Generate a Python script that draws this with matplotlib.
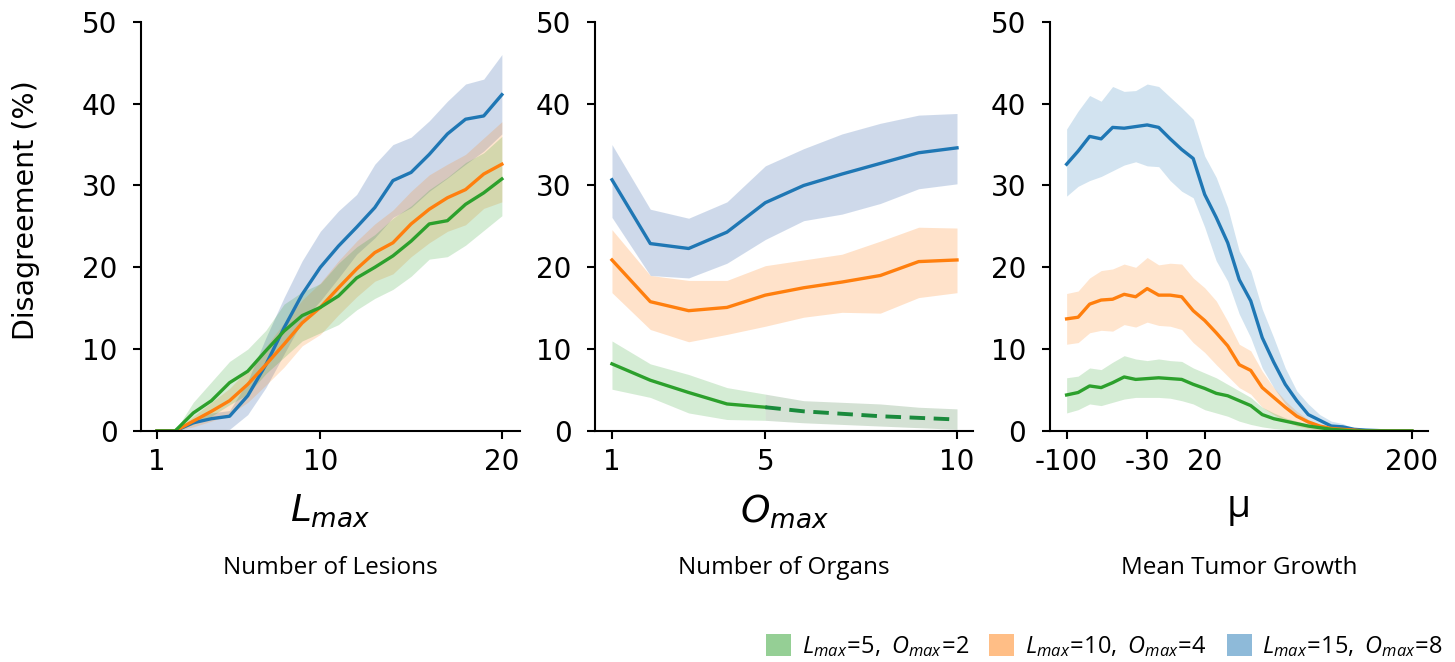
import matplotlib.pyplot as plt
import numpy as np
from matplotlib.patches import Patch

plt.rcParams.update({'font.size': 20, 'font.family': 'DejaVu Sans', 'axes.unicode_minus': False})
plt.rcParams['mathtext.fontset'] = 'custom'
plt.rcParams['mathtext.it'] = 'Open Sans:italic'
plt.rcParams['mathtext.rm'] = 'Open Sans'

# ---- panel 1: number of lesions ----
l_vals = list(range(1, 21))
l_green = [0, 0, 2.2, 3.7, 5.9, 7.3, 9.8, 12.2, 14.1, 15.1, 16.5, 18.7, 20.0, 21.4, 23.2, 25.3, 25.7, 27.7, 29.1, 30.8]
l_green_lo = [0, 0, 0.8, 1.8, 3.2, 4.5, 7.0, 9.0, 11.0, 12.0, 13.0, 14.8, 16.2, 17.3, 18.9, 21.0, 21.3, 22.7, 24.5, 26.3]
l_green_hi = [0, 0, 3.5, 6.0, 8.5, 10.0, 12.3, 15.5, 17.0, 18.0, 20.5, 22.5, 24.0, 26.0, 27.5, 29.5, 31.0, 32.8, 34.0, 36.0]
l_orange = [0, 0, 1.2, 2.4, 3.7, 5.7, 8.1, 10.6, 13.2, 15.1, 17.5, 19.8, 21.8, 23.0, 25.3, 27.1, 28.5, 29.5, 31.4, 32.6]
l_orange_lo = [0, 0, 0.5, 1.2, 2.0, 3.5, 5.6, 7.8, 10.4, 11.8, 14.2, 16.4, 18.3, 19.2, 21.3, 23.0, 24.4, 25.2, 27.2, 28.0]
l_orange_hi = [0, 0, 1.8, 3.5, 5.2, 7.5, 10.3, 13.2, 16.0, 18.1, 20.8, 23.2, 25.3, 27.0, 29.3, 31.3, 32.6, 33.8, 35.8, 37.8]
l_blue = [0, 0, 1.0, 1.5, 1.8, 4.3, 8.1, 12.6, 16.7, 20.0, 22.6, 24.9, 27.3, 30.6, 31.6, 33.8, 36.3, 38.1, 38.5, 41.1]
l_blue_lo = [0, 0, 0, 0.1, 0.2, 2.0, 5.3, 9.4, 13.4, 15.9, 18.7, 21.6, 23.6, 26.1, 27.3, 29.3, 30.9, 32.6, 34.2, 36.3]
l_blue_hi = [0, 0, 1.5, 2.2, 2.5, 6.1, 11.4, 16.3, 20.8, 24.4, 26.9, 28.9, 32.6, 35.0, 35.9, 37.9, 40.3, 42.4, 43.0, 46.0]

# ---- panel 2: number of organs ----
o_vals = list(range(1, 11))
o_green = [8.2, 6.2, 4.7, 3.3, 2.9, 2.4, 2.1, 1.8, 1.6, 1.4]
o_green_lo = [5.1, 4.1, 2.2, 1.4, 1.3, 1.0, 0.8, 0.6, 0.4, 0.2]
o_green_hi = [11.0, 8.2, 6.9, 5.3, 4.5, 3.7, 3.5, 3.3, 2.9, 2.7]
o_orange = [20.9, 15.8, 14.7, 15.1, 16.6, 17.5, 18.2, 19.0, 20.7, 20.9]
o_orange_lo = [16.9, 12.4, 10.9, 11.8, 12.8, 13.9, 14.5, 14.4, 16.3, 16.9]
o_orange_hi = [24.6, 19.0, 18.4, 18.4, 20.2, 20.9, 21.6, 23.2, 24.9, 24.8]
o_blue = [30.7, 22.9, 22.3, 24.3, 27.9, 30.0, 31.4, 32.7, 34.0, 34.6]
o_blue_lo = [26.1, 19.0, 18.7, 20.5, 23.4, 25.7, 26.5, 27.8, 29.6, 30.2]
o_blue_hi = [35.0, 27.1, 26.0, 28.0, 32.4, 34.5, 36.3, 37.6, 38.6, 38.8]
o_solid_end = 5  # green is dashed beyond this value

# ---- panel 3: mean tumor growth ----
mu_vals = list(range(-100, 201, 10))
mu_green = [4.4, 4.7, 5.5, 5.3, 5.9, 6.6, 6.3, 6.4, 6.5, 6.4, 6.3, 5.7, 5.2, 4.6, 4.3, 3.7,
            3.1, 2.0, 1.5, 1.2, 0.9, 0.6, 0.4, 0.2, 0.1, 0, 0, 0, 0, 0, 0]
mu_green_lo = [2.2, 2.6, 3.3, 3.1, 3.5, 3.9, 4.1, 4.1, 4.1, 4.0, 3.7, 3.3, 2.6, 2.2, 1.8, 1.2,
               0.8, 0.5, 0.3, 0.2, 0.1, 0, 0, 0, 0, 0, 0, 0, 0, 0, 0]
mu_green_hi = [6.5, 6.7, 7.7, 7.5, 8.4, 9.2, 8.8, 8.6, 8.8, 8.6, 8.5, 7.7, 7.1, 6.5, 5.7, 4.9,
               4.1, 2.9, 2.2, 1.6, 1.2, 0.8, 0.5, 0.3, 0.2, 0.1, 0, 0, 0, 0, 0]
mu_orange = [13.7, 13.9, 15.5, 16.0, 16.1, 16.7, 16.4, 17.4, 16.6, 16.6, 16.4, 14.7, 13.5, 12.0, 10.4, 8.1,
             7.4, 5.3, 4.1, 2.9, 1.8, 1.1, 0.6, 0.3, 0.2, 0.1, 0, 0, 0, 0, 0]
mu_orange_lo = [10.6, 10.8, 12.0, 12.3, 12.2, 13.0, 12.7, 13.3, 12.9, 12.8, 12.4, 10.8, 9.6, 8.1, 6.7, 5.3,
                4.5, 2.9, 2.0, 1.2, 0.6, 0.3, 0.1, 0, 0, 0, 0, 0, 0, 0, 0]
mu_orange_hi = [16.8, 17.1, 18.7, 19.6, 19.8, 20.4, 20.0, 21.2, 20.3, 20.5, 20.4, 18.7, 17.5, 15.9, 13.4, 10.6,
                9.8, 7.3, 5.3, 3.7, 2.4, 1.4, 0.8, 0.4, 0.2, 0.1, 0, 0, 0, 0, 0]
mu_blue = [32.6, 34.2, 36.0, 35.7, 37.1, 37.0, 37.2, 37.4, 37.1, 35.7, 34.4, 33.3, 28.9, 26.1, 23.0, 18.5,
           15.9, 11.4, 8.4, 5.7, 3.7, 2.0, 1.3, 0.6, 0.5, 0.2, 0.1, 0.05, 0, 0, 0]
mu_blue_lo = [28.7, 29.9, 30.6, 31.1, 31.8, 32.5, 32.9, 32.4, 32.3, 30.6, 29.3, 28.5, 24.9, 20.8, 18.3, 14.3,
              11.4, 7.7, 5.3, 3.3, 1.8, 0.8, 0.4, 0.1, 0, 0, 0, 0, 0, 0, 0]
mu_blue_hi = [36.9, 39.1, 41.0, 40.3, 42.1, 41.5, 41.6, 42.4, 42.1, 40.8, 39.5, 38.1, 33.6, 31.0, 27.3, 22.0,
              19.6, 14.9, 11.4, 7.7, 4.9, 3.3, 2.0, 1.2, 0.9, 0.3, 0.2, 0.1, 0, 0, 0]

legend_labels = [r'$L_{max}\!=\!5,\ O_{max}\!=\!2$', r'$L_{max}\!=\!10,\ O_{max}\!=\!4$',
                 r'$L_{max}\!=\!15,\ O_{max}\!=\!8$']
green, orange, blue = '#2ca02c', '#ff7f0e', '#1f77b4'
lw = 2.4

fig = plt.figure(figsize=(14.55, 6.62), dpi=100)
ax1 = fig.add_axes([0.0969, 0.349, 0.2605, 0.618])
ax2 = fig.add_axes([0.409, 0.349, 0.2598, 0.618])
ax3 = fig.add_axes([0.7216, 0.349, 0.2598, 0.618])

# panel 1
ax1.fill_between(l_vals, l_blue_lo, l_blue_hi, color='#3f6baf', alpha=0.25, lw=0)
ax1.fill_between(l_vals, l_orange_lo, l_orange_hi, color=orange, alpha=0.2, lw=0)
ax1.fill_between(l_vals, l_green_lo, l_green_hi, color=green, alpha=0.2, lw=0)
ax1.plot(l_vals, l_blue, color=blue, lw=lw)
ax1.plot(l_vals, l_orange, color=orange, lw=lw)
ax1.plot(l_vals, l_green, color=green, lw=lw)
ax1.set_xlim(0.12, 21.0)
ax1.set_xticks([1, 10, 20])
ax1.set_xlabel(r'$L_{max}$', fontsize=27, labelpad=12, math_fontfamily='dejavusans')
ax1.set_ylabel('Disagreement (%)', fontsize=20.5)
ax1.yaxis.set_label_coords(-0.266, 0.54)

# panel 2
ax2.fill_between(o_vals, o_blue_lo, o_blue_hi, color='#3f6baf', alpha=0.25, lw=0)
ax2.fill_between(o_vals, o_orange_lo, o_orange_hi, color=orange, alpha=0.22, lw=0)
i5 = o_vals.index(o_solid_end)
ax2.fill_between(o_vals[:i5 + 1], o_green_lo[:i5 + 1], o_green_hi[:i5 + 1], color=green, alpha=0.2, lw=0)
ax2.fill_between(o_vals[i5:], o_green_lo[i5:], o_green_hi[i5:], color='#3c7a3c', alpha=0.22, lw=0)
ax2.plot(o_vals, o_blue, color=blue, lw=lw)
ax2.plot(o_vals, o_orange, color=orange, lw=lw)
ax2.plot(o_vals[:i5 + 1], o_green[:i5 + 1], color=green, lw=lw)
ax2.plot(o_vals[i5:], o_green[i5:], color='#1a8a3c', lw=lw + 0.4, ls=(0, (4, 2.2)))
ax2.set_xlim(0.56, 10.42)
ax2.set_xticks([1, 5, 10])
ax2.set_xlabel(r'$O_{max}$', fontsize=27, labelpad=12, math_fontfamily='dejavusans')

# panel 3
ax3.fill_between(mu_vals, mu_blue_lo, mu_blue_hi, color=blue, alpha=0.2, lw=0)
ax3.fill_between(mu_vals, mu_orange_lo, mu_orange_hi, color=orange, alpha=0.2, lw=0)
ax3.fill_between(mu_vals, mu_green_lo, mu_green_hi, color=green, alpha=0.2, lw=0)
ax3.plot(mu_vals, mu_blue, color=blue, lw=lw)
ax3.plot(mu_vals, mu_orange, color=orange, lw=lw)
ax3.plot(mu_vals, mu_green, color=green, lw=lw)
ax3.set_xlim(-114.5, 214)
ax3.set_xticks([-100, -30, 20, 200])
ax3.set_xlabel('μ', fontsize=28, family='Open Sans', labelpad=9)

subtitles = ['Number of Lesions', 'Number of Organs', 'Mean Tumor Growth']
for ax, sub in zip([ax1, ax2, ax3], subtitles):
    ax.set_ylim(0, 50)
    ax.set_yticks([0, 10, 20, 30, 40, 50])
    ax.spines['top'].set_visible(False)
    ax.spines['right'].set_visible(False)
    ax.spines['left'].set_linewidth(1.5)
    ax.spines['bottom'].set_linewidth(1.5)
    ax.tick_params(length=6, width=1.5, labelsize=20)
    ax.tick_params(axis='x', pad=6)
    ax.tick_params(axis='y', pad=11)
    ax.text(0.5, -0.335, sub, transform=ax.transAxes, ha='center', va='center',
            fontsize=17.5, family='Open Sans')

handles = [Patch(color=c, alpha=0.5, lw=0) for c in [green, orange, blue]]
fig.legend(handles, legend_labels, loc='center right', bbox_to_anchor=(0.992, 0.023), ncol=3,
           frameon=False, fontsize=17, handlelength=1.05, handleheight=1.05, borderpad=0,
           borderaxespad=0, columnspacing=0.85, handletextpad=0.45)

fig.savefig('out.png', dpi=100)
